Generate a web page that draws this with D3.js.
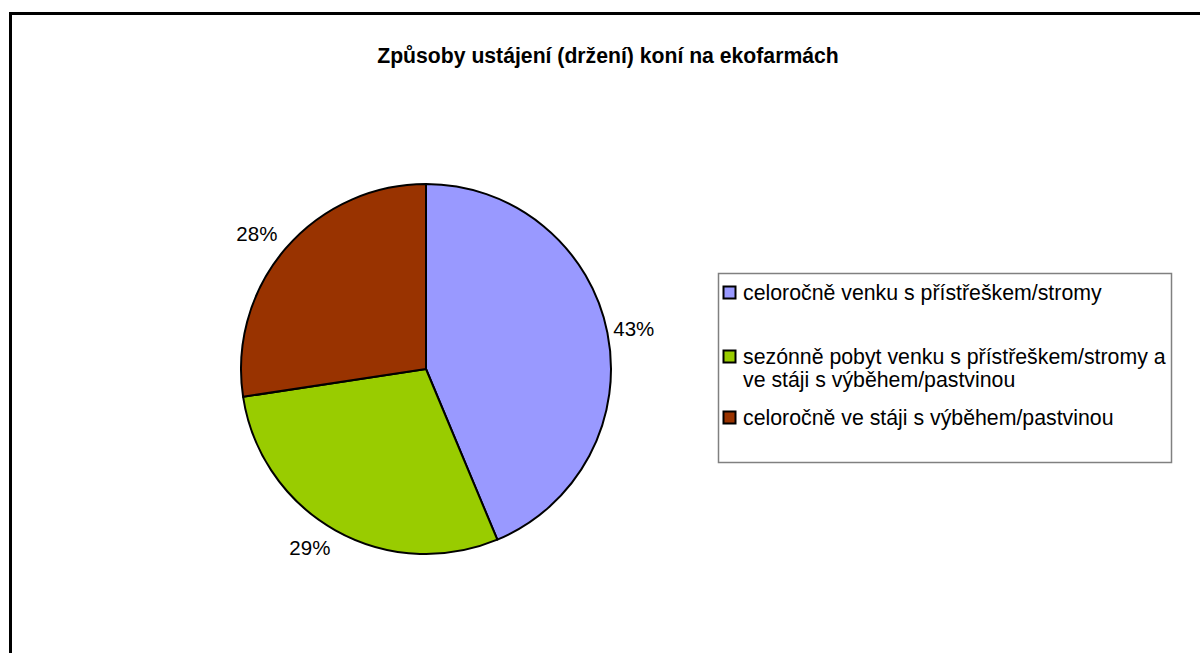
<!DOCTYPE html>
<html>
<head>
<meta charset="utf-8">
<script src="https://cdn.jsdelivr.net/npm/d3@7"></script>
<style>
	body { margin: 0; background: #fff; }
	svg { display: block; font-family: "Liberation Sans", Arial, sans-serif; }
</style>
</head>
<body>
<div id="chart"></div>
<script>
// data
const categories = [
	"celoročně venku s přístřeškem/stromy",
	"sezónně pobyt venku s přístřeškem/stromy a ve stáji s výběhem/pastvinou",
	"celoročně ve stáji s výběhem/pastvinou",
];
const shares = [43.7, 28.9, 27.4];
const shareLabels = ["43%", "29%", "28%"];
const colors = ["#9999FF", "#99CC00", "#993300"];
const title = "Způsoby ustájení (držení) koní na ekofarmách";

const width = 1200;
const height = 653;

const svg = d3
	.select("#chart")
	.append("svg")
	.attr("width", width)
	.attr("height", height);

// outer frame (runs off the right and bottom edges)
svg.append("rect")
	.attr("x", 10.5)
	.attr("y", 13.5)
	.attr("width", width + 20)
	.attr("height", height + 20)
	.attr("fill", "none")
	.attr("stroke", "black")
	.attr("stroke-width", 3);

// title
svg.append("text")
	.attr("x", 608)
	.attr("y", 63)
	.attr("text-anchor", "middle")
	.attr("font-size", 21.2)
	.attr("font-weight", "bold")
	.text(title);

// pie
const cx = 426;
const cy = 369;
const radius = 185;

const pie = d3.pie().sort(null).value((d) => d);
const arcs = pie(shares);
const arc = d3.arc().innerRadius(0).outerRadius(radius);

const g = svg.append("g").attr("transform", `translate(${cx}, ${cy})`);

g.selectAll("path")
	.data(arcs)
	.enter()
	.append("path")
	.attr("d", arc)
	.attr("fill", (d, i) => colors[i])
	.attr("stroke", "black")
	.attr("stroke-width", 2)
	.attr("stroke-linejoin", "round");

// percentage labels outside the slices
const labelFont = 20.5;
arcs.forEach((d, i) => {
	const mid = (d.startAngle + d.endAngle) / 2;
	const dx = Math.sin(mid);
	const dy = -Math.cos(mid);
	// side labels sit a bit closer than corner labels
	const gap = Math.abs(dx) > 0.9 ? 6 : 11;
	const px = (radius + gap) * dx;
	const py = (radius + gap) * dy;
	const t = g.append("text")
		.attr("font-size", labelFont)
		.attr("text-anchor", "middle")
		.attr("dominant-baseline", "central")
		.text(shareLabels[i]);
	const w = t.node().getComputedTextLength();
	const h = labelFont * 0.72;
	const ox = Math.max(-1, Math.min(1, dx * 2)) * w / 2;
	const oy = Math.max(-1, Math.min(1, dy * 2)) * h / 2;
	t.attr("x", px + ox).attr("y", py + oy);
});

// legend
const legend = { x: 718.5, y: 273.5, width: 453, height: 189 };
svg.append("rect")
	.attr("x", legend.x)
	.attr("y", legend.y)
	.attr("width", legend.width)
	.attr("height", legend.height)
	.attr("fill", "white")
	.attr("stroke", "#808080")
	.attr("stroke-width", 1.5);

const legendFont = 21.3;
const lineHeight = 23;
const rowTops = [19, 83, 144];
const maxTextWidth = 428;

categories.forEach((name, i) => {
	const rowY = legend.y + rowTops[i];
	svg.append("rect")
		.attr("x", 723.5)
		.attr("y", rowY - 6)
		.attr("width", 12)
		.attr("height", 12)
		.attr("fill", colors[i])
		.attr("stroke", "black")
		.attr("stroke-width", 2);

	const text = svg.append("text")
		.attr("x", 743)
		.attr("y", rowY)
		.attr("font-size", legendFont)
		.attr("dominant-baseline", "central");

	// wrap words to the legend width
	const words = name.split(" ");
	let line = [];
	let tspan = text.append("tspan").attr("x", 743).attr("dy", 0);
	words.forEach((word) => {
		line.push(word);
		tspan.text(line.join(" "));
		if (tspan.node().getComputedTextLength() > maxTextWidth && line.length > 1) {
			line.pop();
			tspan.text(line.join(" "));
			line = [word];
			tspan = text.append("tspan")
				.attr("x", 743)
				.attr("dy", lineHeight)
				.text(word);
		}
	});
});
</script>
</body>
</html>
